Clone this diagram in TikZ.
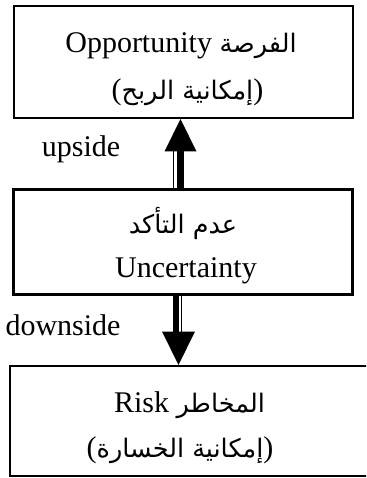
\documentclass[tikz,border=0pt]{standalone}
\usepackage{fontspec}
\setmainfont{Liberation Serif}
\newfontfamily\arabicfont[Script=Arabic]{DejaVu Sans}
\TeXXeTstate=1
\usetikzlibrary{calc}
\newcommand{\artxt}[1]{{\arabicfont\fontsize{25.5}{28}\selectfont\beginR #1\endR}}
\begin{document}
\begin{tikzpicture}[x=1pt,y=-1pt,
  box/.style={draw,line width=2pt,rectangle,inner sep=0pt},
  txt/.style={inner sep=0pt,font=\fontsize{30}{34}\selectfont},
  thickshaft/.style={line width=7pt},
  thinshaft/.style={line width=1.2pt},
  headfill/.style={fill=black}]
\useasboundingbox (0,0) rectangle (366,478);
\fill[white] (0,0) rectangle (366,478);
% boxes
\node[box,minimum width=339pt,minimum height=112pt] (opp) at (183.5,62) {};
\node[box,line width=3pt,minimum width=339pt,minimum height=105pt] (unc) at (182.5,241.5) {};
\begin{scope}
\clip (0,0) rectangle (366,478);
\node[box,minimum width=372pt,minimum height=110pt] (risk) at (196,421) {};
\end{scope}
% texts
\node[txt,anchor=base] (oppA) at (181,53) {Opportunity \artxt{الفرصة}};
\node[txt,anchor=base] (oppB) at (187.5,100) {(\artxt{إمكانية الربح})};
\node[txt,anchor=base] (up) at (81,157) {upside};
\node[txt,anchor=base] (uncA) at (183,233) {\artxt{عدم التأكد}};
\node[txt,anchor=base] (uncB) at (186,277) {Uncertainty};
\node[txt,anchor=base] (down) at (63,335) {downside};
\node[txt,anchor=base] (riskA) at (189.5,412) {Risk \artxt{المخاطر}};
\node[txt,anchor=base] (riskB) at (180,457) {(\artxt{إمكانية الخسارة})};
% up arrow: from unc to opp
\coordinate (uhb) at ($(unc.north)+(0,-36)$);
\draw[thickshaft] ($(unc.north)+(-2,0)$) -- ($(uhb)+(-2,0)$);
\draw[thinshaft] ($(unc.north)+(-9.2,0)$) -- ($(uhb)+(-9.2,0)$);
\fill[headfill] ($(uhb)+(-18,0)$) -- ($(uhb)+(14,0)$) -- ($(opp.south)+(-3,0)$) -- cycle;
% down arrow: from unc to risk
\coordinate (dhb) at ($(unc.south)+(0,36)$);
\draw[thickshaft,line width=6pt] ($(unc.south)+(-6.5,0)$) -- ($(dhb)+(-6.5,0)$);
\draw[thinshaft] ($(unc.south)+(-0.8,0)$) -- ($(dhb)+(-0.8,0)$);
\fill[headfill] ($(dhb)+(-20.5,0)$) -- ($(dhb)+(12.5,0)$) -- ($(risk.north -| unc.south)+(-4,0)$) -- cycle;
\end{tikzpicture}
\end{document}
